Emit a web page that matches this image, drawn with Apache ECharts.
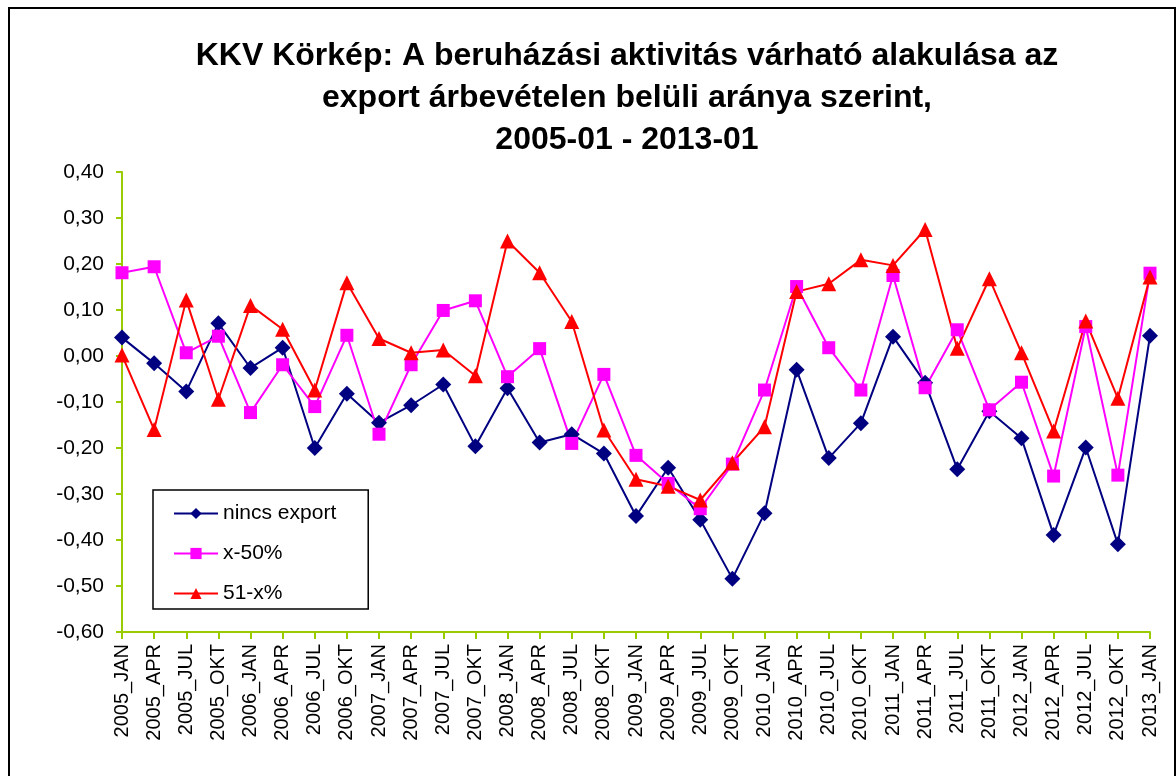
<!DOCTYPE html>
<html>
<head>
<meta charset="utf-8">
<script src="https://cdn.jsdelivr.net/npm/echarts@6/dist/echarts.min.js"></script>
<style>
	html, body { margin: 0; padding: 0; background: #fff; }
	#frame { position: absolute; left: 8px; top: 7px; width: 1168px; height: 780px; border: 2px solid #000; box-sizing: border-box; }
	#chart { position: absolute; left: 0; top: 0; width: 1176px; height: 776px; }
</style>
</head>
<body>
<div id="frame"></div>
<div id="chart"></div>
<script>
//negyedéves kategóriák
var categories = ['2005_JAN','2005_APR','2005_JUL','2005_OKT','2006_JAN','2006_APR','2006_JUL','2006_OKT',
	'2007_JAN','2007_APR','2007_JUL','2007_OKT','2008_JAN','2008_APR','2008_JUL','2008_OKT',
	'2009_JAN','2009_APR','2009_JUL','2009_OKT','2010_JAN','2010_APR','2010_JUL','2010_OKT',
	'2011_JAN','2011_APR','2011_JUL','2011_OKT','2012_JAN','2012_APR','2012_JUL','2012_OKT','2013_JAN'];

var nincsExport = [0.040,-0.016,-0.077,0.071,-0.026,0.018,-0.200,-0.082,
	-0.145,-0.107,-0.062,-0.196,-0.070,-0.188,-0.170,-0.212,
	-0.348,-0.243,-0.356,-0.484,-0.342,-0.030,-0.222,-0.146,
	0.042,-0.058,-0.246,-0.120,-0.179,-0.389,-0.199,-0.409,0.044];

var x50 = [0.181,0.194,0.007,0.043,-0.123,-0.019,-0.110,0.045,
	-0.170,-0.019,0.099,0.120,-0.045,0.016,-0.190,-0.040,
	-0.216,-0.277,-0.332,-0.235,-0.074,0.151,0.018,-0.074,
	0.175,-0.069,0.057,-0.117,-0.057,-0.261,0.064,-0.259,0.180];

var x51 = [0.002,-0.160,0.122,-0.094,0.110,0.058,-0.074,0.159,
	0.038,0.007,0.013,-0.043,0.250,0.181,0.075,-0.161,
	-0.268,-0.283,-0.313,-0.232,-0.154,0.140,0.157,0.209,
	0.197,0.275,0.017,0.168,0.007,-0.163,0.076,-0.092,0.172];

var seriesNames = ['nincs export','x-50%','51-x%'];

var myChart = echarts.init(document.getElementById('chart'));
var axisColor = '#99CC00';
var font = 'Arial, "Liberation Sans", sans-serif';

option = {
	animation: false,
	backgroundColor: 'transparent',
	title: {
		text: 'KKV Körkép: A beruházási aktivitás várható alakulása az\nexport árbevételen belüli aránya szerint,\n2005-01 - 2013-01',
		left: 622,
		textAlign: 'center',
		top: 30,
		textStyle: {
			fontFamily: font,
			fontSize: 32,
			fontWeight: 'bold',
			color: '#000',
			lineHeight: 42
		}
	},
	legend: {
		data: seriesNames,
		orient: 'vertical',
		left: 153,
		top: 490,
		padding: [13, 32, 5, 20],
		itemGap: 19,
		itemWidth: 44,
		itemHeight: 14,
		backgroundColor: '#fff',
		borderColor: '#000',
		borderWidth: 1.5,
		borderRadius: 0,
		textStyle: { fontFamily: font, fontSize: 21, color: '#000' }
	},
	grid: {
		left: 122,
		right: 26,
		top: 172,
		bottom: 144,
		containLabel: false
	},
	xAxis: {
		type: 'category',
		data: categories,
		boundaryGap: false,
		axisLine: { onZero: false, lineStyle: { color: axisColor, width: 2 } },
		axisTick: { alignWithLabel: true, length: 7, lineStyle: { color: axisColor, width: 2 } },
		axisLabel: {
			interval: 0,
			rotate: 90,
			margin: 12,
			fontFamily: font,
			fontSize: 20,
			color: '#000'
		},
		splitLine: { show: false }
	},
	yAxis: {
		type: 'value',
		min: -0.6,
		max: 0.4,
		interval: 0.1,
		axisLine: { show: true, lineStyle: { color: axisColor, width: 2 } },
		axisTick: { show: true, length: 6, lineStyle: { color: axisColor, width: 2 } },
		axisLabel: {
			margin: 18,
			fontFamily: font,
			fontSize: 21,
			color: '#000',
			formatter: function (v) {
				return v.toFixed(2).replace('.', ',');
			}
		},
		splitLine: { show: false }
	},
	series: [
		{
			name: seriesNames[0],
			type: 'line',
			data: nincsExport,
			symbol: 'diamond',
			symbolSize: 16,
			itemStyle: { color: '#000080' },
			lineStyle: { color: '#000080', width: 2 }
		},
		{
			name: seriesNames[1],
			type: 'line',
			data: x50,
			symbol: 'rect',
			symbolSize: 13,
			itemStyle: { color: '#FF00FF' },
			lineStyle: { color: '#FF00FF', width: 2 }
		},
		{
			name: seriesNames[2],
			type: 'line',
			data: x51,
			symbol: 'triangle',
			symbolSize: 15,
			itemStyle: { color: '#FF0000' },
			lineStyle: { color: '#FF0000', width: 2 }
		}
	]
};

myChart.setOption(option);
</script>
</body>
</html>
